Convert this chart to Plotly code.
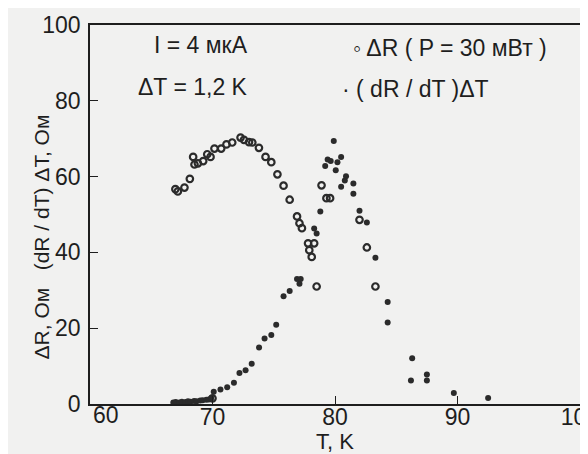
import plotly.graph_objects as go

# ΔR (P = 30 мВт) — open circles
dR_T = [66.97, 67.17, 67.71, 68.15, 68.42, 68.53, 68.81, 69.24, 69.57, 69.84,
        70.16, 70.71, 71.14, 71.61, 72.29, 72.57, 72.98, 73.25, 73.79, 74.33,
        74.80, 75.3, 75.8, 76.3, 76.9, 77.1, 77.3, 77.8, 77.9, 78.1, 78.3, 78.5,
        78.9, 79.3, 79.6, 82.0, 82.6, 83.3, 70.0]
dR_V = [56.7, 56.1, 57.1, 59.4, 65.2, 63.2, 63.5, 64.1, 65.9, 65.2,
        67.4, 67.4, 68.5, 69.0, 70.3, 69.7, 69.1, 69.0, 67.6, 65.2,
        63.8, 60.6, 57.6, 53.9, 49.5, 47.7, 46.4, 42.4, 40.6, 38.8, 42.4, 31.0,
        57.7, 54.3, 54.3, 48.6, 41.3, 31.0, 1.5]

# (dR/dT)ΔT — filled dots
dd_T = [66.8, 67.0, 67.3, 67.5, 67.8, 68.0, 68.2, 68.5, 68.7, 69.0, 69.2, 69.5,
        69.7, 69.9, 70.1, 70.65, 71.2, 71.75, 72.2, 72.7, 73.2, 73.8, 74.25, 74.8,
        75.2, 75.8, 76.3, 76.9, 77.1, 77.2, 78.3, 78.5, 78.8, 79.2, 79.4, 79.65,
        79.9, 80.06, 80.2, 80.5, 80.5, 80.8, 80.9, 81.5, 81.5, 82.0, 82.6, 83.3,
        84.3, 84.3, 86.3, 86.2, 87.5, 87.5, 89.7, 92.5]
dd_V = [0.4, 0.5, 0.4, 0.6, 0.5, 0.7, 0.6, 0.8, 0.7, 0.9, 1.0, 1.1,
        1.2, 1.6, 3.2, 3.8, 4.4, 5.6, 8.2, 8.9, 10.6, 14.9, 17.3, 18.2,
        20.9, 28.4, 29.8, 33.0, 31.7, 33.0, 46.3, 45.0, 50.8, 62.8, 64.5, 64.1,
        69.4, 61.7, 63.8, 65.2, 57.3, 59.0, 60.1, 58.2, 55.5, 51.0, 47.9, 38.6,
        26.9, 21.5, 12.1, 6.2, 7.8, 6.2, 2.9, 1.6]

x_ticks = [60, 70, 80, 90, 100]
x_tick_labels = ["60", "70", "80", "90", "100"]
y_ticks = [0, 20, 40, 60, 80, 100]
y_tick_labels = ["0", "20", "40", "60", "80", "100"]

ink = "#1e1e1e"
dot = "#2b2b2b"
font = "Liberation Sans, Arial, sans-serif"

fig = go.Figure()
fig.add_trace(go.Scatter(x=dR_T, y=dR_V, mode="markers",
                         marker=dict(symbol="circle-open", size=6.5, color=dot,
                                     line=dict(width=2.2, color=dot)),
                         showlegend=False))
fig.add_trace(go.Scatter(x=dd_T, y=dd_V, mode="markers",
                         marker=dict(symbol="circle", size=6, color=dot),
                         showlegend=False))

axis_common = dict(showline=True, linecolor=ink, linewidth=1.5, mirror=True,
                   ticks="inside", ticklen=8, tickcolor=ink, tickwidth=1.2,
                   showgrid=False, zeroline=False, automargin=False,
                   ticklabeloverflow="allow",
                   tickfont=dict(family=font, size=23, color=ink))

# first x label (60) is set just right of its tick, as in the original
fig.update_xaxes(range=[60, 100], tickvals=x_ticks,
                 ticktext=[""] + x_tick_labels[1:],
                 ticklabelstandoff=-8, **axis_common)
fig.update_yaxes(range=[0, 100], tickvals=y_ticks, ticktext=y_tick_labels,
                 ticklabelstandoff=3, **axis_common)
fig.add_annotation(x=x_ticks[0], y=-0.03, xref="x", yref="paper",
                   text=x_tick_labels[0], showarrow=False,
                   xanchor="left", yanchor="middle", xshift=1,
                   font=dict(family=font, size=23, color=ink))

# axis titles
fig.add_annotation(x=-0.098, y=0.442, xref="paper", yref="paper",
                   text="ΔR, Ом   (dR / dT) ΔT, Ом", textangle=-90,
                   showarrow=False, xanchor="center", yanchor="middle",
                   font=dict(family=font, size=21, color=ink))
fig.add_annotation(x=0.5, y=-0.098, xref="paper", yref="paper",
                   text="T, K", showarrow=False, xanchor="center", yanchor="middle",
                   font=dict(family=font, size=22, color=ink))

ann_font = dict(family=font, size=23, color=ink)
fig.add_annotation(x=0.126, y=0.948, xref="paper", yref="paper", text="I = 4 мкА",
                   showarrow=False, xanchor="left", yanchor="middle", font=ann_font)
fig.add_annotation(x=0.093, y=0.836, xref="paper", yref="paper", text="ΔT = 1,2 K",
                   showarrow=False, xanchor="left", yanchor="middle", font=ann_font)
fig.add_annotation(x=0.532, y=0.940, xref="paper", yref="paper",
                   text="◦ ΔR ( P = 30 мВт )",
                   showarrow=False, xanchor="left", yanchor="middle", font=ann_font)
fig.add_annotation(x=0.510, y=0.831, xref="paper", yref="paper",
                   text="· ( dR / dT )ΔT",
                   showarrow=False, xanchor="left", yanchor="middle", font=ann_font)

fig.update_layout(width=588, height=454,
                  margin=dict(l=82, r=16, t=17, b=58),
                  paper_bgcolor="#f1f1f0", plot_bgcolor="#f1f1f0",
                  showlegend=False)

fig.write_html("out.html")
